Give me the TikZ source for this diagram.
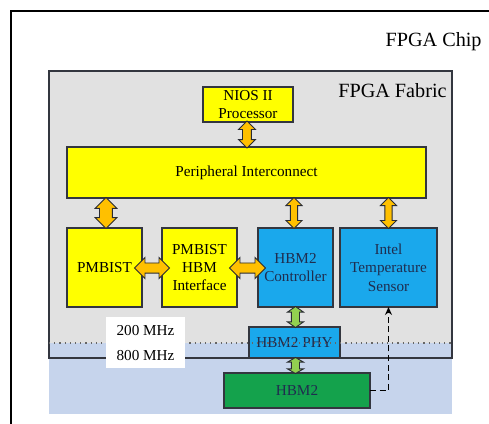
\documentclass[tikz,border=0pt]{standalone}
\usepackage{fontspec}
\setmainfont{Liberation Serif}
\usetikzlibrary{shapes.arrows,calc,arrows.meta}

\definecolor{fabricgray}{HTML}{E1E1E1}
\definecolor{hbmzone}{HTML}{C6D4EC}
\definecolor{ipyellow}{HTML}{FFFF00}
\definecolor{ipblue}{HTML}{1AA8EC}
\definecolor{ipgreen}{HTML}{14A24C}
\definecolor{busorange}{HTML}{FFC000}
\definecolor{linkgreen}{HTML}{92D050}
\definecolor{edge}{HTML}{33363F}
\definecolor{navytext}{HTML}{1F2D4F}

\tikzset{
  ipbox/.style={draw=edge, line width=0.6pt, inner sep=0pt, outer sep=0pt,
    align=center, font=\fontsize{7.6}{9.2}\selectfont},
  yellowbox/.style={ipbox, fill=ipyellow, text=black},
  bluebox/.style={ipbox, fill=ipblue, text=navytext},
  greenbox/.style={ipbox, fill=ipgreen, text=navytext},
  blockarrow/.style={double arrow, draw=edge!80!black, line width=0.45pt,
    inner xsep=0pt, text height=0pt, text depth=0pt, outer sep=0pt},
  orangelink/.style={blockarrow, fill=busorange},
  greenlink/.style={blockarrow, fill=linkgreen},
  title/.style={font=\fontsize{10.1}{12}\selectfont, anchor=base east, inner sep=0pt},
}

\begin{document}
\begin{tikzpicture}[x=0.5pt, y=-0.5pt]
\useasboundingbox (0,0) rectangle (489,424);

% chip outline (runs past the page on the right and bottom)
\draw[line width=0.8pt] (11,440) -- (11,11) -- (500,11);
\node[title] (chip) at (482,46) {FPGA Chip};

% fabric area and the HBM clock domain band
\fill[fabricgray] (49,71) rectangle (452,358);
\fill[hbmzone] (49,343) rectangle (452,414);
\draw[draw=edge, line width=0.8pt] (49,71) rectangle (452,358);
\node[title] (fabric) at (447,97) {FPGA Fabric};

% IP blocks
\node[yellowbox, minimum width=45pt, minimum height=17.5pt] (nios) at (248,104.5) {NIOS II\\Processor};
\node[yellowbox, minimum width=179.5pt, minimum height=25.5pt] (pi) at (246.5,172.5) {Peripheral Interconnect};
\node[yellowbox, minimum width=37.5pt, minimum height=39.5pt] (pmb) at (104.5,267.5) {PMBIST};
\node[yellowbox, minimum width=37.5pt, minimum height=39.5pt] (pif) at (199.5,267.5) {PMBIST\\HBM\\Interface};
\node[bluebox, minimum width=37.5pt, minimum height=39.5pt] (ctrl) at (295.5,267.5) {HBM2\\Controller};
\node[bluebox, minimum width=48.5pt, minimum height=39.5pt] (temp) at (388.5,267.5) {Intel\\Temperature\\Sensor};
\node[bluebox, minimum width=45.5pt, minimum height=15.5pt] (phy) at (294.5,342.5) {HBM2 PHY};
\node[greenbox, minimum width=73pt, minimum height=17.5pt] (hbm) at (297,390.5) {HBM2};

% clock domain boundary
\draw[gray!80!black, dotted, line width=0.6pt] (49,343) -- (452,343);

% clock frequencies
\node[fill=white, minimum width=39.5pt, minimum height=25.5pt, inner sep=0pt] (clk) at (145.5,342.5) {};
\node[font=\fontsize{7.6}{9.2}\selectfont] (f200) at ($(clk.center)+(0,-11.5)$) {200 MHz};
\node[font=\fontsize{7.6}{9.2}\selectfont] (f800) at ($(clk.center)+(0,13.5)$) {800 MHz};

% interconnect links
\node[orangelink, rotate=90, minimum height=13.5pt, inner ysep=2pt, double arrow head extend=2pt]
  (a1) at ($(nios.south)!0.5!(nios.south |- pi.north)+(-1,0)$) {};
\node[orangelink, rotate=90, minimum height=15.5pt, inner ysep=3pt, double arrow head extend=2.2pt]
  (a2) at ($(pmb.north)!0.5!(pmb.north |- pi.south)+(1.5,0)$) {};
\node[orangelink, rotate=90, minimum height=15.5pt, inner ysep=1.6pt, double arrow head extend=2.2pt]
  (a3) at ($(ctrl.north)!0.5!(ctrl.north |- pi.south)+(-1.5,0)$) {};
\node[orangelink, rotate=90, minimum height=15.5pt, inner ysep=1.6pt, double arrow head extend=2.2pt]
  (a4) at ($(temp.north)!0.5!(temp.north |- pi.south)$) {};
\node[orangelink, minimum height=17.5pt, inner ysep=2.3pt, double arrow head extend=2.7pt]
  (a5) at ($(pmb.east)!0.5!(pif.west)+(0,0.5)$) {};
\node[orangelink, minimum height=18pt, inner ysep=2.3pt, double arrow head extend=2.7pt]
  (a6) at ($(pif.east)!0.5!(ctrl.west)+(0,0.5)$) {};

% controller to PHY to memory
\node[greenlink, rotate=90, minimum height=10.5pt, inner ysep=1.8pt, double arrow head extend=2pt,
  double arrow tip angle=110]
  (g1) at ($(ctrl.south)!0.5!(ctrl.south |- phy.north)$) {};
\node[greenlink, rotate=90, minimum height=8pt, inner ysep=1.8pt, double arrow head extend=2pt,
  double arrow tip angle=120]
  (g2) at ($(phy.south -| g1)!0.5!(hbm.north -| g1)$) {};

% temperature readout
\draw[dash pattern=on 3pt off 1.8pt, line width=0.8pt, -{Stealth[length=4pt,width=3.5pt]}]
  (hbm.east) -- (hbm.east -| temp.south) -- (temp.south);
\end{tikzpicture}
\end{document}
